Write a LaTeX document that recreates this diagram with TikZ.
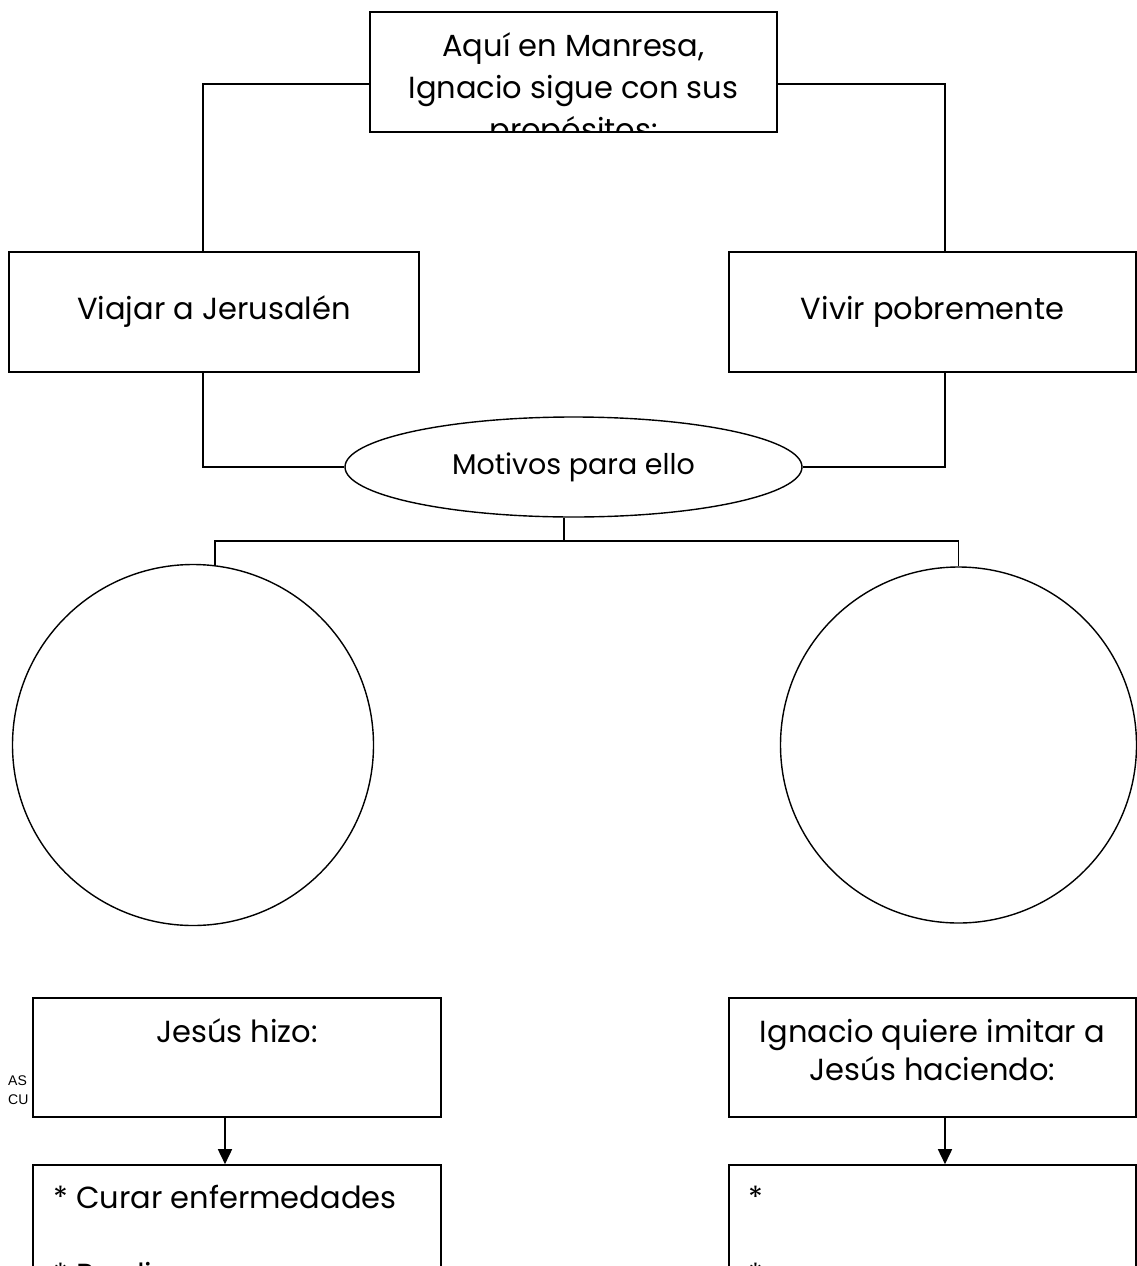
\documentclass[tikz,border=0pt]{standalone}
\usepackage{fontspec}
\setmainfont{Poppins}
\newfontfamily\smallsans{Liberation Sans}
\usetikzlibrary{shapes.geometric,arrows.meta}
\tikzset{
  boxnode/.style={draw=black, line width=1.6pt, fill=white, rectangle, inner sep=0pt},
  bigtext/.style={font=\fontsize{30.5}{40}\selectfont, inner sep=0pt},
  conn/.style={draw=black, line width=1.6pt},
  arr/.style={conn, -{Triangle[length=15pt,width=14pt]}},
}
\begin{document}
\begin{tikzpicture}[x=1pt,y=-1pt]
\useasboundingbox (0,0) rectangle (1137,1266);
\clip (0,0) rectangle (1137,1266);
\fill[white] (0,0) rectangle (1137,1266);

% small text partly covered by the box
\node[anchor=base west, inner sep=0pt, font=\smallsans\fontsize{14}{19}\selectfont, align=left] (ascu) at (8,1104) {AS\\CU};

% top box
\node[boxnode, minimum width=407pt, minimum height=120pt] (top) at (573.5,72) {};
\begin{scope}
  \clip (371,13) rectangle (776,131);
  \node[inner sep=0pt, align=center, font=\fontsize{30.5}{42}\selectfont, anchor=base] (toptext) at (573.5,140) {Aquí en Manresa,\\Ignacio sigue con sus\\propósitos:};
\end{scope}

% second row
\node[boxnode, minimum width=410pt, minimum height=120pt, bigtext] (lbox) at (214,312) {Viajar a Jerusalén};
\node[boxnode, minimum width=407pt, minimum height=120pt, bigtext] (rbox) at (932.5,312) {Vivir pobremente};

% ellipse
\node[draw=black, line width=1.4pt, fill=white, ellipse, minimum width=457pt, minimum height=100pt, inner sep=0pt, font=\fontsize{28.5}{34}\selectfont] (ell) at (573.5,467) {Motivos para ello};

% circles
\node[draw=black, line width=1.4pt, circle, minimum size=361pt, inner sep=0pt] (lcirc) at (193,745) {};
\node[draw=black, line width=1.4pt, circle, minimum size=356pt, inner sep=0pt] (rcirc) at (958.5,745) {};

% lower boxes
\node[boxnode, minimum width=408pt, minimum height=119pt] (jbox) at (237,1057.5) {};
\node[bigtext, anchor=base] (jtext) at (237,1042) {Jesús hizo:};
\node[boxnode, minimum width=407pt, minimum height=119pt] (ibox) at (932.5,1057.5) {};
\node[inner sep=0pt, align=center, font=\fontsize{30.5}{38}\selectfont, anchor=base] (itext) at (932.5,1080) {Ignacio quiere imitar a\\Jesús haciendo:};

\node[boxnode, minimum width=408pt, minimum height=150pt] (cbox) at (237,1240) {};
\node[boxnode, minimum width=407pt, minimum height=150pt] (pbox) at (932.5,1240) {};
\node[bigtext, anchor=base west] (c1) at (53,1208) {* Curar enfermedades};
\node[bigtext, anchor=base west] (c2) at (53,1285) {* Predicar};
\node[bigtext, anchor=base west] (p1) at (748,1208) {*};
\node[bigtext, anchor=base west] (p2) at (748,1285) {*};

% connectors
\coordinate (hub) at (564,541);
\draw[conn] ([yshift=-12pt]top.west) -| ([xshift=-11pt]lbox.north);
\draw[conn] ([yshift=-12pt]top.east) -| ([xshift=12.5pt]rbox.north);
\draw[conn] ([xshift=-11pt]lbox.south) |- (ell.west);
\draw[conn] ([xshift=12.5pt]rbox.south) |- (ell.east);
\draw[conn] ([xshift=-9.5pt]ell.south) -- (hub);
\draw[conn] (hub) -| (lcirc.83);
\draw[conn] (hub) -| (rcirc.north);
\draw[arr] ([xshift=-12pt]jbox.south) -- ([xshift=-12pt]cbox.north);
\draw[arr] ([xshift=12.5pt]ibox.south) -- ([xshift=12.5pt]pbox.north);
\end{tikzpicture}
\end{document}
